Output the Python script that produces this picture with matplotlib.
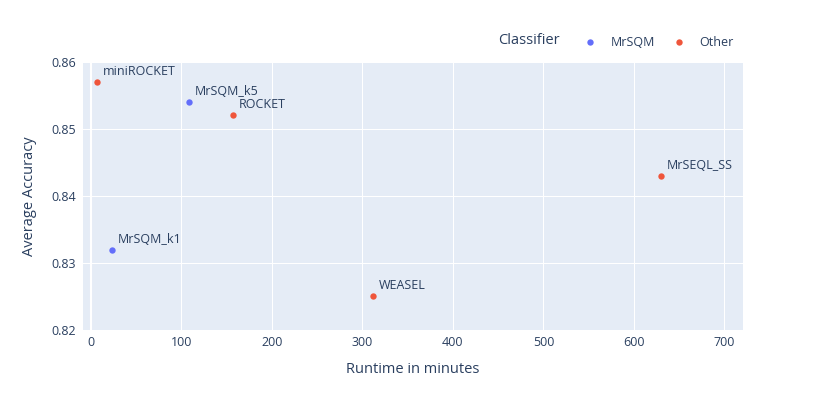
import matplotlib
matplotlib.use("Agg")
import matplotlib.pyplot as plt

plt.rcParams['font.family'] = ['Open Sans', 'DejaVu Sans']

names = ["miniROCKET", "MrSQM_k5", "ROCKET", "MrSEQL_SS", "MrSQM_k1", "WEASEL"]
runtime = [7, 108, 157, 630, 23, 312]
accuracy = [0.857, 0.854, 0.852, 0.843, 0.832, 0.825]
group = ["Other", "MrSQM", "Other", "Other", "MrSQM", "Other"]
groups = ["MrSQM", "Other"]
colors = {"MrSQM": "#636efa", "Other": "#EF553B"}

FC = "#2a3f5f"
W, H = 830, 418
fig = plt.figure(figsize=(W / 100, H / 100), dpi=100)
L, R, T, B = 82.7, 742.7, 61.7, 330.0
ax = fig.add_axes([L / W, (H - B) / H, (R - L) / W, (B - T) / H])
ax.set_facecolor("#E5ECF6")
for s in ax.spines.values():
    s.set_visible(False)

ax.set_xlim(-9.2, 720.3)
ax.set_ylim(0.82, 0.86)
ax.set_xticks([0, 100, 200, 300, 400, 500, 600, 700])
ax.set_yticks([0.82, 0.83, 0.84, 0.85, 0.86])
ax.set_yticklabels(["0.82", "0.83", "0.84", "0.85", "0.86"])
ax.grid(True, color="white", linewidth=0.75)
ax.set_axisbelow(True)
ax.axvline(0, color="white", linewidth=1.5, zorder=0.5)
ax.tick_params(length=0, labelsize=9, labelcolor=FC)
ax.tick_params(axis="x", pad=4)
ax.tick_params(axis="y", pad=5)

handles = []
for g in groups:
    xs = [x for x, gg in zip(runtime, group) if gg == g]
    ys = [y for y, gg in zip(accuracy, group) if gg == g]
    h = ax.scatter(xs, ys, s=21, color=colors[g], linewidths=0, zorder=3, label=g)
    handles.append(h)

for n, x, y in zip(names, runtime, accuracy):
    ax.annotate(n, (x, y), xytext=(6, 4), textcoords="offset pixels",
                ha="left", va="bottom", fontsize=9, color=FC, zorder=4)

ax.set_xlabel("Runtime in minutes", fontsize=10.5, color=FC, labelpad=9.5)
ax.set_ylabel("Average Accuracy", fontsize=10.5, color=FC, labelpad=10)

fig.text(498 / W, (H - 41) / H, "Classifier", fontsize=10.5, color=FC,
         ha="left", va="center")
leg = fig.legend(handles=handles, labels=groups, ncol=2, frameon=False,
                 loc="center left", bbox_to_anchor=(584 / W, (H - 42) / H),
                 borderpad=0, borderaxespad=0, handlelength=1.0,
                 handletextpad=1.1, columnspacing=1.45, fontsize=9,
                 labelcolor=FC, scatterpoints=1)

fig.savefig("out.png", dpi=100, facecolor="white")
